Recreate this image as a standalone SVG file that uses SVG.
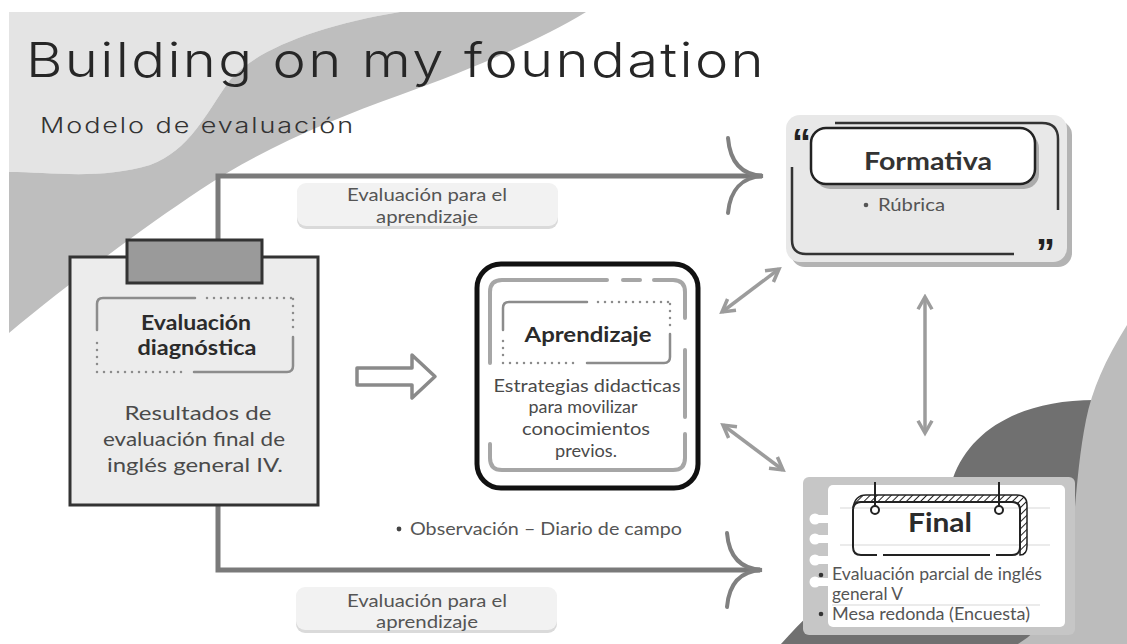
<svg xmlns="http://www.w3.org/2000/svg" width="1127" height="644" viewBox="0 0 1127 644">
<defs>
<style>
.t{font-family:Lato,"Open Sans","Liberation Sans",sans-serif;}
.title{font-family:Inter,Lato,"Liberation Sans",sans-serif;font-size:48px;font-weight:300;fill:#262626;letter-spacing:2px;}
.sub{font-family:Inter,Lato,"Liberation Sans",sans-serif;font-size:21px;font-weight:300;fill:#333;letter-spacing:1.5px;}
.lbl{font-size:17px;fill:#555;text-anchor:middle;}
.body{font-size:20px;fill:#4a4a4a;text-anchor:middle;}
.hd{font-size:20px;font-weight:700;fill:#2b2b2b;text-anchor:middle;}
.sm{font-size:17px;fill:#555;}
.conn{fill:none;stroke:#7a7a7a;stroke-width:5;}
.head{fill:none;stroke:#808080;stroke-width:4;stroke-linecap:round;}
.dbl{fill:none;stroke:#9c9c9c;stroke-width:3.5;marker-start:url(#chev);marker-end:url(#chev);}
.frm{fill:none;stroke:#8c8c8c;stroke-width:2.5;stroke-linecap:round;}
.dot{fill:none;stroke:#8c8c8c;stroke-width:2.5;stroke-linecap:round;stroke-dasharray:0 7;}
.ink{fill:none;stroke:#222;stroke-width:2;}
</style>
<marker id="chev" viewBox="0 0 10 10" refX="8" refY="5" markerWidth="5" markerHeight="5" orient="auto-start-reverse" markerUnits="strokeWidth">
<path d="M1,1 L8,5 L1,9" fill="none" stroke="#9c9c9c" stroke-width="2"/>
</marker>
<pattern id="hatch" width="5" height="5" patternUnits="userSpaceOnUse" patternTransform="rotate(45)">
<rect width="5" height="5" fill="#fff"/><line x1="0" y1="0" x2="0" y2="5" stroke="#222" stroke-width="2"/>
</pattern>
</defs>

<g id="background">
<rect width="1127" height="644" fill="#fff"/>
<path d="M9,12 L400,12 C320,25 255,50 230,80 C205,115 190,150 150,165 C100,180 50,172 9,172 Z" fill="#e4e4e4"/>
<path d="M400,12 L586,12 C540,40 470,70 400,95 C330,120 260,150 200,190 C140,230 60,290 9,333 L9,172 C50,172 100,180 150,165 C190,150 205,115 230,80 C255,50 320,25 400,12 Z" fill="#bebebe"/>
<path d="M781,644 C830,590 900,530 953,478 C970,430 1020,400 1095,400 L1095,644 Z" fill="#707070"/>
<path d="M1127,325 C1105,360 1092,390 1086,420 C1078,460 1076,500 1072,540 C1062,600 1045,628 1018,644 L1127,644 Z" fill="#bcbcbc"/>
</g>

<g id="titles">
<text class="title" x="26" y="77" textLength="740" lengthAdjust="spacingAndGlyphs">Building on my foundation</text>
<text class="sub" x="40" y="133" textLength="315" lengthAdjust="spacingAndGlyphs">Modelo de evaluación</text>
</g>

<g id="connectors">
<path class="conn" d="M218,240 V176 H762"/>
<path class="head" d="M728,138 C730,162 742,175 763,176 C742,177 730,190 728,213"/>
<path class="conn" d="M218,505 V570 H760"/>
<path class="head" d="M727,533 C729,557 741,569 762,570 C741,571 729,583 727,607"/>
<path d="M357,368 H412 V355 L435,376.5 L412,398 V385 H357 Z" fill="#fff" stroke="#8a8a8a" stroke-width="3.5" stroke-linejoin="round"/>
<path class="dbl" d="M722,312 L779,269"/>
<path class="dbl" d="M723,425 L783,470"/>
<path class="dbl" d="M925,297 V433"/>
</g>

<g id="label-top">
<rect x="297" y="185" width="261" height="44" rx="9" fill="#dadada"/>
<rect x="297" y="183" width="261" height="43" rx="9" fill="#f2f2f2"/>
<text class="t lbl" x="427" y="201" textLength="160" lengthAdjust="spacingAndGlyphs">Evaluación para el</text>
<text class="t lbl" x="427" y="223" textLength="102" lengthAdjust="spacingAndGlyphs">aprendizaje</text>
</g>

<g id="label-bottom">
<rect x="296" y="589" width="261" height="44" rx="9" fill="#dadada"/>
<rect x="296" y="587" width="261" height="43" rx="9" fill="#f2f2f2"/>
<text class="t lbl" x="427" y="607" textLength="160" lengthAdjust="spacingAndGlyphs">Evaluación para el</text>
<text class="t lbl" x="427" y="628" textLength="102" lengthAdjust="spacingAndGlyphs">aprendizaje</text>
</g>

<g id="observacion">
<circle cx="399" cy="529" r="2.4" fill="#444"/>
<text class="t" x="410" y="535" font-size="18" fill="#555" textLength="272" lengthAdjust="spacingAndGlyphs">Observación – Diario de campo</text>
</g>

<g id="diagnostica">
<rect x="70" y="257" width="248" height="248" fill="#ececec" stroke="#333" stroke-width="3"/>
<rect x="127" y="240" width="135" height="43" fill="#9a9a9a" stroke="#333" stroke-width="3"/>
<path class="frm" d="M195,298 H103 Q97,298 97,304 V330"/>
<path class="dot" d="M97,343 V368"/>
<path class="dot" d="M97,372 H188"/>
<path class="frm" d="M194,372 H287 Q293,372 293,366 V337"/>
<path class="dot" d="M293,327 V298"/>
<path class="dot" d="M207,298 H293"/>
<text class="t hd" x="196" y="330" textLength="110" lengthAdjust="spacingAndGlyphs">Evaluación</text>
<text class="t hd" x="197" y="355" textLength="119" lengthAdjust="spacingAndGlyphs">diagnóstica</text>
<text class="t body" x="198" y="420" textLength="147" lengthAdjust="spacingAndGlyphs">Resultados de</text>
<text class="t body" x="194" y="446" textLength="182" lengthAdjust="spacingAndGlyphs">evaluación final de</text>
<text class="t body" x="195" y="472" textLength="176" lengthAdjust="spacingAndGlyphs">inglés general IV.</text>
</g>

<g id="aprendizaje">
<rect x="477" y="264" width="221" height="224" rx="24" fill="#fff" stroke="#111" stroke-width="5"/>
<g fill="none" stroke="#a6a6a6" stroke-width="4" stroke-linecap="round">
<path d="M490,363 V292 Q490,280 502,280 H607"/>
<path d="M623,280 H640"/>
<path d="M654,280 H673 Q685,280 685,292 V318"/>
<path d="M685,350 V417"/>
<path d="M685,434 V458 Q685,470 673,470 H502 Q490,470 490,458 V444"/>
</g>
<path class="frm" d="M587,302 H509 Q503,302 503,308 V330"/>
<path class="dot" d="M503,341 V358"/>
<path class="dot" d="M503,363 H580"/>
<path class="frm" d="M587,363 H664 Q670,363 670,357 V334"/>
<path class="dot" d="M670,325 V302"/>
<path class="dot" d="M598,302 H670"/>
<text class="t hd" x="588" y="342" textLength="127" lengthAdjust="spacingAndGlyphs">Aprendizaje</text>
<text class="t body" x="587" y="392" style="font-size:18px" textLength="187" lengthAdjust="spacingAndGlyphs">Estrategias didacticas</text>
<text class="t body" x="583" y="413" style="font-size:18px" textLength="109" lengthAdjust="spacingAndGlyphs">para movilizar</text>
<text class="t body" x="586" y="435" style="font-size:18px" textLength="128" lengthAdjust="spacingAndGlyphs">conocimientos</text>
<text class="t body" x="586" y="457" style="font-size:18px" textLength="62" lengthAdjust="spacingAndGlyphs">previos.</text>
</g>

<g id="formativa">
<rect x="791" y="121" width="281" height="146" rx="14" fill="#b3b3b3"/>
<rect x="786" y="115" width="281" height="147" rx="14" fill="#e8e8e8"/>
<path d="M835,123 H1042 Q1058,123 1058,139 V210" fill="none" stroke="#333" stroke-width="2.5"/>
<path d="M792,167 V240 Q792,254 806,254 H1014" fill="none" stroke="#333" stroke-width="2.5"/>
<rect x="815" y="133" width="224" height="56" rx="15" fill="#ababab"/>
<rect x="811" y="128" width="224" height="56" rx="15" fill="#fff" stroke="#222" stroke-width="2.5"/>
<text x="792" y="156" font-family="'Liberation Sans',sans-serif" font-weight="700" font-size="38" fill="#222">“</text>
<text x="1036" y="266" font-family="'Liberation Sans',sans-serif" font-weight="700" font-size="38" fill="#222">”</text>
<text class="t" x="928" y="170" font-size="24" font-weight="700" fill="#333" text-anchor="middle" textLength="128" lengthAdjust="spacingAndGlyphs">Formativa</text>
<circle cx="866" cy="205" r="2.3" fill="#555"/>
<text class="t sm" x="878" y="211" textLength="67" lengthAdjust="spacingAndGlyphs">Rúbrica</text>
</g>

<g id="final">
<rect x="803" y="477" width="272" height="158" rx="6" fill="#c6c6c6"/>
<rect x="828" y="485" width="237" height="142" rx="5" fill="#fff"/>
<g fill="#fff">
<rect x="814" y="515" width="16" height="8"/><circle cx="815" cy="519" r="5.5"/>
<rect x="814" y="535" width="16" height="8"/><circle cx="815" cy="539" r="5.5"/>
<rect x="814" y="556" width="16" height="8"/><circle cx="815" cy="560" r="5.5"/>
<rect x="814" y="578" width="16" height="8"/><circle cx="815" cy="582" r="5.5"/>
</g>
<g stroke="#e4e4e4" stroke-width="1.5">
<line x1="840" y1="508" x2="1050" y2="508"/>
<line x1="840" y1="545" x2="1050" y2="545"/>
<line x1="832" y1="605" x2="1040" y2="605"/>
</g>
<path d="M853,508 Q855,495 866,495 H1017 Q1027,495 1027,505 V546 Q1027,555 1020,555 V510 Q1020,502 1012,502 H861 Q855,502 853,508 Z" fill="url(#hatch)" stroke="#222" stroke-width="1.5"/>
<path class="ink" d="M877,555 H861 Q853,555 853,547 V510 Q853,502 861,502 H1012 Q1020,502 1020,510 V547 Q1020,555 1012,555 H996"/>
<path class="ink" d="M883,555 H990"/>
<line x1="875" y1="482" x2="875" y2="506" stroke="#222" stroke-width="2"/>
<circle cx="875" cy="510" r="4" fill="#fff" stroke="#222" stroke-width="2"/>
<line x1="999" y1="482" x2="999" y2="506" stroke="#222" stroke-width="2"/>
<circle cx="999" cy="510" r="4" fill="#fff" stroke="#222" stroke-width="2"/>
<text class="t" x="940" y="532" font-size="26" font-weight="700" fill="#2b2b2b" text-anchor="middle" textLength="64" lengthAdjust="spacingAndGlyphs">Final</text>
<circle cx="821" cy="575" r="2.3" fill="#333"/>
<text class="t sm" x="832" y="580" textLength="210" lengthAdjust="spacingAndGlyphs">Evaluación parcial de inglés</text>
<text class="t sm" x="832" y="600" textLength="71" lengthAdjust="spacingAndGlyphs">general V</text>
<circle cx="821" cy="614" r="2.3" fill="#333"/>
<text class="t sm" x="832" y="620" textLength="198" lengthAdjust="spacingAndGlyphs">Mesa redonda (Encuesta)</text>
</g>
</svg>
